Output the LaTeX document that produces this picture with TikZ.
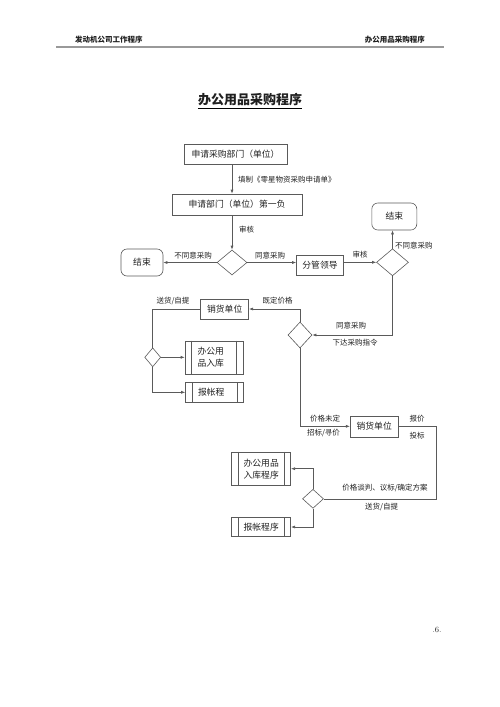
\documentclass[tikz,border=0pt]{standalone}
\usepackage{fontspec}
\newfontfamily\cjk{Noto Sans CJK SC}
\usetikzlibrary{shapes.geometric,arrows.meta}
\definecolor{lc}{HTML}{5A5A5A}
\definecolor{tc}{HTML}{202020}
\begin{document}
\begin{tikzpicture}[x=1pt,y=-1pt,
  every node/.style={font=\cjk\fontsize{7.5}{9}\selectfont, text=tc, inner sep=0pt},
  box/.style={draw=lc, line width=0.6pt, rectangle, align=center, font=\cjk\fontsize{8.8}{12}\selectfont},
  rbox/.style={box, rounded corners=6pt},
  dia/.style={draw=lc, line width=0.6pt, diamond},
  line/.style={draw=lc, line width=0.6pt},
  arr/.style={line, -{Latex[length=4pt,width=3pt]}}]
\useasboundingbox (0,0) rectangle (500,707);
% header
\node[font=\cjk\bfseries\fontsize{7.5}{9}\selectfont, anchor=west] (h1) at (75,40) {发动机公司工作程序};
\node[font=\cjk\bfseries\fontsize{7.5}{9}\selectfont, anchor=east] (h2) at (425,40) {办公用品采购程序};
\draw[color=gray!80, line width=1.2pt] (56,47) -- (444,47);
% title
\node[font=\cjk\bfseries\fontsize{13}{15}\selectfont] (title) at (250,100) {办公用品采购程序};
\draw[line width=0.8pt] ([yshift=-2pt]title.south west) -- ([yshift=-2pt]title.south east);
% nodes
\node[box, minimum width=103pt, minimum height=20pt] (b1) at (235.5,154) {申请采购部门（单位）};
\node[box, minimum width=130pt, minimum height=21pt] (b2) at (237,204.5) {申请部门（单位）第一负};
\node[dia, minimum width=30pt, minimum height=25pt] (d1) at (232,262.5) {};
\node[rbox, minimum width=42pt, minimum height=27pt] (e1) at (142,262.5) {结束};
\node[box, minimum width=47pt, minimum height=20pt] (lead) at (320,265.5) {分管领导};
\node[dia, minimum width=32pt, minimum height=27pt] (d2) at (392.5,262.3) {};
\node[rbox, minimum width=45pt, minimum height=27pt] (e2) at (394.3,216.5) {结束};
\node[dia, minimum width=24pt, minimum height=26pt] (d3) at (300,335) {};
\node[box, minimum width=48pt, minimum height=20pt] (s1) at (224.7,309) {销货单位};
\node[dia, minimum width=16pt, minimum height=19pt] (d4) at (152.7,357.3) {};
\node[box, minimum width=58pt, minimum height=33pt, text width=33pt, align=left] (p1) at (214,357.3) {办公用\\品入库};
\node[box, minimum width=58pt, minimum height=20pt, text width=33pt, align=left] (p2) at (214.5,392.3) {报帐程};
\node[box, minimum width=48pt, minimum height=21pt] (s2) at (374.2,426.3) {销货单位};
\coordinate (c1) at (436.5,498.8);
\node[dia, minimum width=21pt, minimum height=19pt] (d5) at (313,498.8) {};
\node[box, minimum width=59pt, minimum height=33pt] (p3) at (261.2,468.7) {办公用品\\入库程序};
\node[box, minimum width=59pt, minimum height=19pt] (p4) at (261.2,527) {报帐程序};
\foreach \n in {p1,p2,p3,p4} {
  \draw[line] ([xshift=7pt]\n.north west) -- ([xshift=7pt]\n.south west);
  \draw[line] ([xshift=-7pt]\n.north east) -- ([xshift=-7pt]\n.south east);
}
% connectors
\draw[arr] (b1.south -| d1) -- (b2.north -| d1);
\draw[arr] (b2.south -| d1) -- (d1.north);
\draw[arr] (d1.west) -- (e1.east);
\draw[arr] (d1.east) -- (d1.east -| lead.west);
\draw[arr] (lead.east |- d2) -- (d2.west);
\draw[arr] (d2.north) -- (d2.north |- e2.south);
\draw[arr] (d2.south) |- (d3.east);
\draw[arr] (d3.north) |- (s1.east);
\draw[line] (s1.west) -| (d4.north);
\draw[arr] (d4.east) -- (p1.west);
\draw[arr] (d4.south) |- (p2.west);
\draw[arr] (d3.south) |- (s2.west);
\draw[line] (s2.east) -| (c1) -- (d5.east);
\draw[arr] (d5.north) |- (p3.east);
\draw[arr] (d5.south) |- (p4.east);
% labels
\node[anchor=west] (l1) at (238,180) {填制《零星物资采购申请单》};
\node[anchor=west] (l2) at (239,230) {审核};
\node (l3) at (193,256) {不同意采购};
\node (l4) at (270,256) {同意采购};
\node (l5) at (360,255) {审核};
\node[anchor=west] (l6) at (395,245.7) {不同意采购};
\node (l7) at (351,325.7) {同意采购};
\node (l8) at (355,343) {下达采购指令};
\node (l9) at (277.5,300.7) {既定价格};
\node (l10) at (173,300.7) {送货/自提};
\node (l11) at (325,419) {价格未定};
\node (l12) at (323.5,433.3) {招标/寻价};
\node (l13) at (417,419) {报价};
\node (l14) at (417,435.5) {投标};
\node (l15) at (385,488.3) {价格谈判、议标/确定方案};
\node (l16) at (381.7,506.7) {送货/自提};
% page number
\node[font=\rmfamily\fontsize{8}{9}\selectfont] (pg) at (437,630) {.6.};
\end{tikzpicture}
\end{document}
